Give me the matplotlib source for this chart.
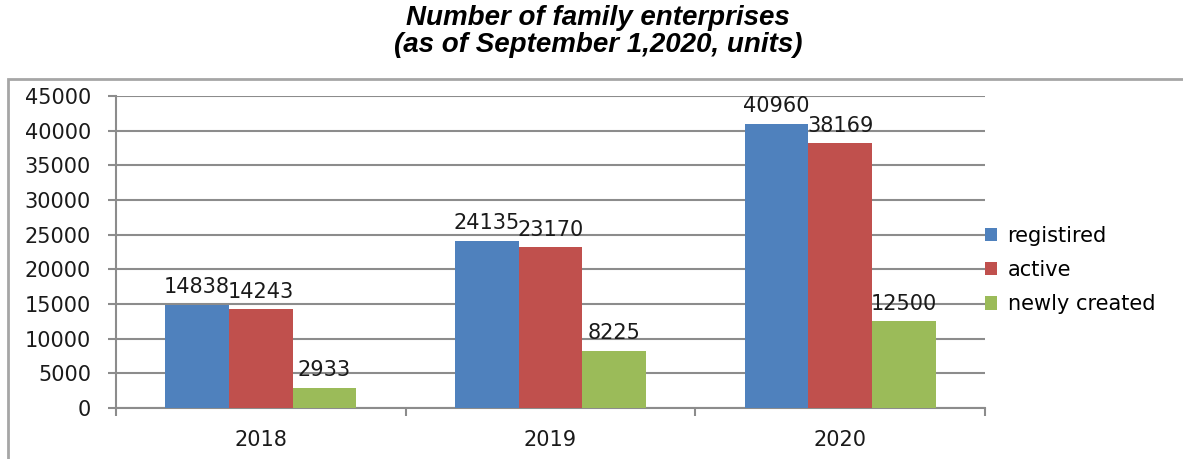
import matplotlib.pyplot as plt
import numpy as np
from matplotlib.patches import Rectangle

years = ["2018", "2019", "2020"]
registered = [14838, 24135, 40960]
active = [14243, 23170, 38169]
newly_created = [2933, 8225, 12500]
series_names = ["registired", "active", "newly created"]
colors = ["#4F81BD", "#C0504D", "#9BBB59"]

plt.rcParams['font.family'] = ['DejaVu Sans']

fig = plt.figure(figsize=(11.83, 4.59), dpi=100)
ax = fig.add_axes([116 / 1183, 1 - 408 / 459, (985 - 116) / 1183, (408 - 96) / 459])

# outer chart frame (cut off on right and bottom like the source)
fig.patches.append(Rectangle((8 / 1183, -0.1), 1.2, 0.1 + 1 - 79 / 459,
                             transform=fig.transFigure, fill=False,
                             edgecolor="#A6A6A6", linewidth=2))

x = np.arange(len(years))
w = 0.22
for i, (vals, name, c) in enumerate(zip([registered, active, newly_created], series_names, colors)):
    bars = ax.bar(x + (i - 1) * w, vals, w, color=c, label=name, zorder=3)
    for b, v in zip(bars, vals):
        ax.text(b.get_x() + b.get_width() / 2, v + 1100, str(v),
                ha="center", va="bottom", fontsize=15, color="#1a1a1a")

ax.set_xlim(-0.5, 2.5)
ax.set_ylim(0, 45000)
ax.set_yticks(range(0, 45001, 5000))
ax.yaxis.grid(True, color="#8C8C8C", linewidth=1.5, zorder=0)
ax.set_axisbelow(True)

ax.set_xticks(x)
ax.set_xticklabels(years)
ax.set_xticks([-0.5, 0.5, 1.5, 2.5], minor=True)
ax.tick_params(axis="x", which="major", length=0, pad=16, labelsize=15, labelcolor="#1a1a1a")
ax.tick_params(axis="x", which="minor", length=6, width=1.5, color="#8C8C8C", direction="out")
ax.tick_params(axis="y", length=6, width=1.5, color="#8C8C8C", labelsize=15, pad=12,
               labelcolor="#1a1a1a")

for s in ["top", "right"]:
    ax.spines[s].set_visible(False)
for s in ["left", "bottom"]:
    ax.spines[s].set_color("#8C8C8C")
    ax.spines[s].set_linewidth(1.5)

ax.legend(loc="center left", bbox_to_anchor=(0.99, 0.442), frameon=False,
          fontsize=15, handlelength=0.6, handleheight=0.6, labelspacing=0.68,
          handletextpad=0.5, borderaxespad=0.0)

fig.text(598 / 1183, 1 - 18 / 459, "Number of family enterprises", ha="center", va="center",
         fontsize=20, fontweight="bold", fontstyle="italic", family="Liberation Sans")
fig.text(598 / 1183, 1 - 45 / 459, "(as of September 1,2020, units)", ha="center", va="center",
         fontsize=20, fontweight="bold", fontstyle="italic", family="Liberation Sans")

fig.savefig("out.png", dpi=100)
